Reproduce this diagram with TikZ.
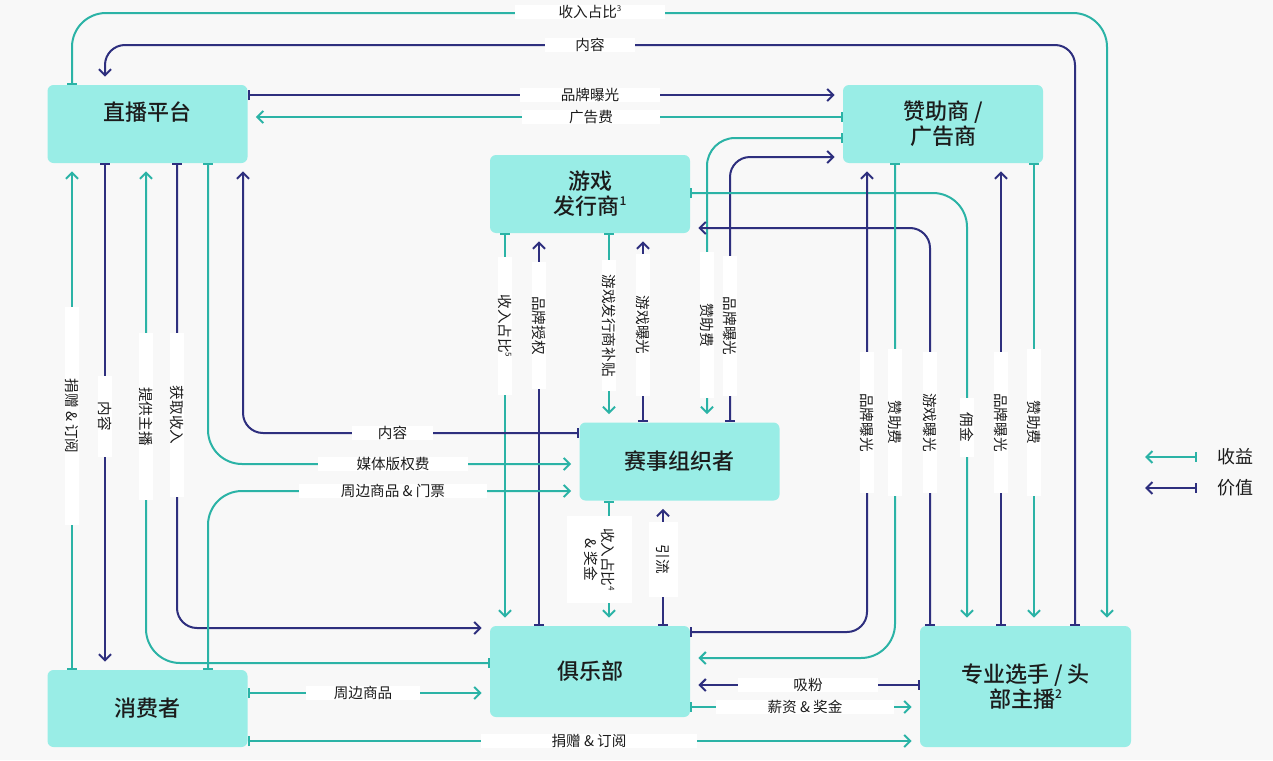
\documentclass[tikz,border=0pt]{standalone}
\usepackage{fontspec}
\setmainfont{Noto Sans CJK SC}
\newfontfamily\boxfont{Noto Sans CJK SC Medium}
\usetikzlibrary{arrows.meta}
\definecolor{boxc}{HTML}{99EDE6}
\definecolor{revc}{HTML}{2BB3A6}
\definecolor{valc}{HTML}{2E2F7E}
\definecolor{bgc}{HTML}{F8F8F8}
\definecolor{txtc}{HTML}{1C1C1C}
\newcommand{\fnmark}[1]{\raisebox{0.42em}{\scalebox{0.55}{#1}}}
\tikzset{
  party/.style={fill=boxc, rounded corners=3pt, align=center, inner sep=0pt, text=txtc,
    minimum width=100pt, minimum height=39pt, font=\boxfont\fontsize{11}{12.5}\selectfont},
  rev/.style={draw=revc, line width=1pt, rounded corners=17pt, shorten >=4pt,
    {Bar[width=5pt]}-{Straight Barb[length=3pt,width=6pt]}},
  val/.style={rev, draw=valc, rounded corners=10pt},
  lbl/.style={fill=white, inner xsep=0pt, inner ysep=0pt, minimum height=6pt,
    font=\fontsize{7.3}{8.5}\selectfont, text=txtc},
  vlbl/.style={lbl, rotate=-90},
  legtext/.style={anchor=west, font=\fontsize{9}{10}\selectfont, text=txtc},
}
\begin{document}
\begin{tikzpicture}[x=0.5pt, y=-0.5pt]
\fill[bgc] (0,0) rectangle (1273,760);

% parties
\node[party] (plat) at (147.5,124) {直播平台\\\phantom{直}};
\node[party] (spons) at (943,124) {赞助商 /\\广告商};
\node[party] (pub) at (590,194) {游戏\\发行商\fnmark{1}};
\node[party] (org) at (679.5,461.5) {赛事组织者};
\node[party, minimum height=45.5pt] (club) at (590,671.5) {俱乐部};
\node[party, minimum width=105.5pt, minimum height=60.5pt] (pro) at (1025.5,686.5) {专业选手 / 头\\部主播\fnmark{2}};
\node[party, minimum height=38.5pt] (cons) at (147.5,708.5) {消费者};

% top loops
\draw[rev] (72,0 |- plat.north) |- (1107,13) -- (1107,0 |- pro.north);
\draw[val] (1075,0 |- pro.north) |- (105,45) -- (105,0 |- plat.north);

% platform <-> sponsor
\draw[val] (plat.east |- 0,95) -- (spons.west |- 0,95);
\draw[rev] (spons.west |- 0,117) -- (plat.east |- 0,117);

% sponsor <-> organizer
\draw[rev, rounded corners=14pt] (spons.west |- 0,138) -| (707,0 |- org.north);
\draw[val] (730,0 |- org.north) |- (spons.west |- 0,157);

% publisher <-> pro
\draw[rev] (pub.east |- 0,193) -| (967,0 |- pro.north);
\draw[val] (930,0 |- pro.north) |- (pub.east |- 0,228);

% publisher <-> club / organizer
\draw[rev] (505,0 |- pub.south) -- (505,0 |- club.north);
\draw[val] (539,0 |- club.north) -- (539,0 |- pub.south);
\draw[rev] (609,0 |- pub.south) -- (609,0 |- org.north);
\draw[val] (643,0 |- org.north) -- (643,0 |- pub.south);

% platform <-> consumer / club / organizer
\draw[rev] (72,0 |- cons.north) -- (72,0 |- plat.south);
\draw[val] (105,0 |- plat.south) -- (105,0 |- cons.north);
\draw[rev] (club.west |- 0,663) -| (146,0 |- plat.south);
\draw[val] (177,0 |- plat.south) |- (club.west |- 0,628);
\draw[rev] (208,0 |- plat.south) |- (org.west |- 0,464);
\draw[val] (org.west |- 0,433) -| (243,0 |- plat.south);
\draw[rev] (208,0 |- cons.north) |- (org.west |- 0,491);

% organizer <-> club
\draw[rev] (609,0 |- org.south) -- (609,0 |- club.north);
\draw[val] (663,0 |- club.north) -- (663,0 |- org.south);

% sponsor <-> club / pro
\draw[val] (club.east |- 0,632) -| (867,0 |- spons.south);
\draw[rev] (895,0 |- spons.south) |- (club.east |- 0,658);
\draw[val] (1001,0 |- pro.north) -- (1001,0 |- spons.south);
\draw[rev] (1034,0 |- spons.south) -- (1034,0 |- pro.north);

% bottom row
\draw[val] (pro.west |- 0,685) -- (club.east |- 0,685);
\draw[rev] (club.east |- 0,707) -- (pro.west |- 0,707);
\draw[rev] (cons.east |- 0,693) -- (club.west |- 0,693);
\draw[rev] (cons.east |- 0,741) -- (pro.west |- 0,741);

% labels
\node[lbl, minimum width=75pt] (t1) at (590,12) {收入占比\fnmark{3}};
\node[lbl, minimum width=45pt] (t2) at (590,45) {内容};
\node[lbl, minimum width=70pt] (t3) at (590,95) {品牌曝光};
\node[lbl, minimum width=69pt] (t4) at (591,117) {广告费};
\node[lbl, minimum width=40.5pt] (t5) at (392.5,433) {内容};
\node[lbl, minimum width=75pt] (t6) at (393,464) {媒体版权费};
\node[lbl, minimum width=94pt] (t7) at (393,491) {周边商品 \& 门票};
\node[lbl, minimum width=57pt] (t8) at (363,693) {周边商品};
\node[lbl, minimum width=108pt] (t9) at (589,741) {捐赠 \& 订阅};
\node[lbl, minimum width=70pt] (t10) at (808,685) {吸粉};
\node[lbl, minimum width=89pt] (t11) at (805,707) {薪资 \& 奖金};
\node[vlbl, minimum width=109pt] (v1) at (72,416) {捐赠 \& 订阅};
\node[vlbl, minimum width=40.5pt] (v2) at (105,416.5) {内容};
\node[vlbl, minimum width=83.5pt] (v3) at (146,416.5) {提供主播};
\node[vlbl, minimum width=82pt] (v4) at (177,415) {获取收入};
\node[vlbl, minimum width=69pt] (v5) at (505,326) {收入占比\fnmark{5}};
\node[vlbl, minimum width=63.5pt] (v6) at (539,325.5) {品牌授权};
\node[vlbl, minimum width=65.5pt] (v7) at (609,325.5) {游戏发行商补贴};
\node[vlbl, minimum width=71pt] (v8) at (643,325) {游戏曝光};
\node[vlbl, minimum width=73pt] (v9) at (707,325) {赞助费};
\node[vlbl, minimum width=70pt] (v10) at (730,326) {品牌曝光};
\node[vlbl, minimum width=70.5pt] (v11) at (867,422.5) {品牌曝光};
\node[vlbl, minimum width=73.5pt] (v12) at (895,422.5) {赞助费};
\node[vlbl, minimum width=70.5pt] (v13) at (930,422.5) {游戏曝光};
\node[vlbl, minimum width=29.5pt] (v14) at (967,427.5) {佣金};
\node[vlbl, minimum width=70.5pt] (v15) at (1001,422.5) {品牌曝光};
\node[vlbl, minimum width=73.5pt] (v16) at (1034,422.5) {赞助费};
\node[vlbl, minimum width=43.5pt, minimum height=32.5pt, align=center] (v17) at (599.5,559.5) {收入占比\fnmark{4}\\\& 奖金};
\node[vlbl, minimum width=37.5pt, minimum height=14.5pt] (v18) at (663.5,559.5) {引流};

% legend
\coordinate (legrevA) at (1197,457);
\coordinate (legrevB) at (1145,457);
\coordinate (legvalA) at (1197,488);
\coordinate (legvalB) at (1145,488);
\draw[rev, shorten >=0pt] (legrevA) -- (legrevB);
\draw[val, shorten >=0pt] (legvalA) -- (legvalB);
\node[legtext] (legrev) at (1210,457) {收益};
\node[legtext] (legval) at (1210,488) {价值};
\end{tikzpicture}
\end{document}
